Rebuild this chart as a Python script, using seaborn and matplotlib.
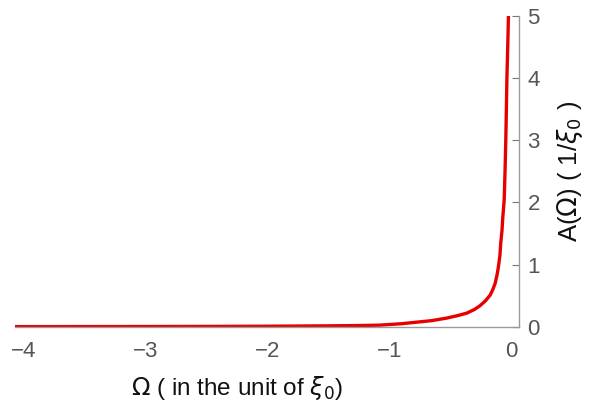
import pandas as pd
import seaborn as sns
import matplotlib.pyplot as plt

# values
omega = [-4.07, -3.5, -3.0, -2.5, -2.0, -1.5, -1.25, -1.08, -0.9, -0.8,
         -0.65, -0.53, -0.44, -0.364, -0.30, -0.255, -0.21, -0.172, -0.15,
         -0.131, -0.115, -0.104, -0.092, -0.085, -0.075, -0.068, -0.057,
         -0.050, -0.044, -0.039, -0.035, -0.028, -0.022]
amplitude = [0.003, 0.004, 0.005, 0.007, 0.010, 0.016, 0.021, 0.027, 0.05,
             0.07, 0.10, 0.14, 0.18, 0.22, 0.28, 0.34, 0.42, 0.51, 0.60, 0.70,
             0.84, 0.97, 1.15, 1.35, 1.55, 1.77, 2.04, 2.5, 2.98, 3.5, 3.97,
             4.5, 5.0]
xticks = [-4, -3, -2, -1, 0]
yticks = [0, 1, 2, 3, 4, 5]

sns.set_style("white")
plt.rcParams['font.family'] = ['Liberation Sans', 'DejaVu Sans']
plt.rcParams['mathtext.fontset'] = 'dejavusans'

df = pd.DataFrame({"omega": omega, "A": amplitude})

fig = plt.figure(figsize=(5.92, 4.05), dpi=100)
ax = fig.add_axes([0.025, 0.193, 0.852, 0.768])
sns.lineplot(data=df, x="omega", y="A", ax=ax, color="#e60000",
             linewidth=2.4, solid_capstyle="butt")

ax.set_xlim(-4.07, 0.066)
ax.set_ylim(0, 5)
ax.set_xticks(xticks)
ax.set_yticks(yticks)
ax.set_xticklabels(["\u2212%d" % -t if t < 0 else str(t) for t in xticks])

for s in ["top", "left"]:
    ax.spines[s].set_visible(False)
for s in ["bottom", "right"]:
    ax.spines[s].set_color("#9a9a9a")
    ax.spines[s].set_linewidth(1.0)

ax.yaxis.tick_right()
ax.tick_params(axis="x", direction="in", length=4, width=0.8,
               color="#777777", labelcolor="#555555", labelsize=16, pad=10)
ax.tick_params(axis="y", direction="in", length=5, width=0.8,
               color="#777777", labelcolor="#555555", labelsize=16, pad=6)

ax.set_xlabel("")
ax.set_ylabel("")
fig.text(0.40, 0.042, r"$\Omega$ ( in the unit of $\xi_0$)", fontsize=17.5,
         color="#111111", ha="center", va="center")
fig.text(0.963, 0.577, r"A($\Omega$) ( 1/$\xi_0$ )", fontsize=18.5,
         color="#111111", ha="center", va="center", rotation=90)

fig.savefig("out.png", dpi=100)
